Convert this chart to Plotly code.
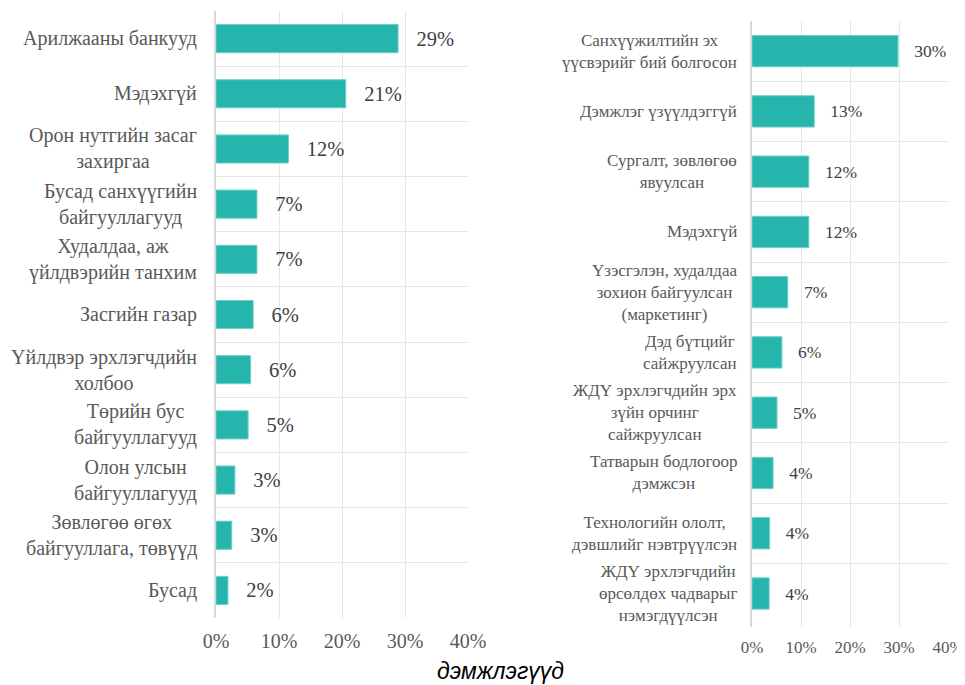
import plotly.graph_objects as go

left_cats = ["Арилжааны банкууд", "Мэдэхгүй", "Орон нутгийн засаг<br>захиргаа",
             "Бусад санхүүгийн<br>байгууллагууд", "Худалдаа, аж<br>үйлдвэрийн танхим",
             "Засгийн газар", "Үйлдвэр эрхлэгчдийн<br>холбоо", "Төрийн бус<br>байгууллагууд",
             "Олон улсын<br>байгууллагууд", "Зөвлөгөө өгөх<br>байгууллага, төвүүд", "Бусад"]
left_vals = [28.9, 20.6, 11.5, 6.5, 6.5, 5.9, 5.5, 5.1, 3.0, 2.5, 1.9]

right_cats = ["Санхүүжилтийн эх<br>үүсвэрийг бий болгосон", "Дэмжлэг үзүүлдэггүй",
              "Сургалт, зөвлөгөө<br>явуулсан", "Мэдэхгүй",
              "Үзэсгэлэн, худалдаа<br>зохион байгуулсан<br>(маркетинг)",
              "Дэд бүтцийг<br>сайжруулсан", "ЖДҮ эрхлэгчдийн эрх<br>зүйн орчинг<br>сайжруулсан",
              "Татварын бодлогоор<br>дэмжсэн", "Технологийн ололт,<br>дэвшлийг нэвтрүүлсэн",
              "ЖДҮ эрхлэгчдийн<br>өрсөлдөх чадварыг<br>нэмэгдүүлсэн"]
right_vals = [29.8, 12.7, 11.6, 11.6, 7.3, 6.1, 5.1, 4.3, 3.6, 3.5]

x_ticks = [0, 10, 20, 30, 40]
x_ticktext = ["0%", "10%", "20%", "30%", "40%"]
bottom_text = "дэмжлэгүүд"

BAR = "#26B5AC"
GRID = "#E7E7E7"
LABEL = "#595959"
VAL = "#404040"
SERIF = "Liberation Serif"

W, H = 965, 677   # page body has an 8px margin; positions below are screen pixels


def fx(px):
    return (px - 8) / W


def fy(px):
    return 1 - (px - 8) / H


fig = go.Figure()
nb = "\u00a0"
fig.add_trace(go.Bar(
    x=left_vals, y=left_cats, orientation="h", xaxis="x", yaxis="y",
    marker=dict(color=BAR, line=dict(color="#6fd0c8", width=1)),
    texttemplate=nb * 3 + "%{x:.0f}%", textposition="outside", cliponaxis=False,
    textfont=dict(family=SERIF, size=20.5, color=VAL), width=0.51, hoverinfo="skip"))
fig.add_trace(go.Bar(
    x=right_vals, y=right_cats, orientation="h", xaxis="x2", yaxis="y2",
    marker=dict(color=BAR, line=dict(color="#6fd0c8", width=1)),
    texttemplate=nb * 3 + "%{x:.0f}%", textposition="outside", cliponaxis=False,
    textfont=dict(family=SERIF, size=17.5, color=VAL), width=0.52, hoverinfo="skip"))

annotations = []
for c in left_cats:
    annotations.append(dict(x=0, xref="x domain", y=c, yref="y", text=c, showarrow=False,
                            xanchor="right", align="center", xshift=-17,
                            font=dict(family=SERIF, size=20, color=LABEL)))
for c in right_cats:
    annotations.append(dict(x=0, xref="x2 domain", y=c, yref="y2", text=c, showarrow=False,
                            xanchor="right", align="center", xshift=-13,
                            font=dict(family=SERIF, size=17, color=LABEL)))
annotations.append(dict(x=fx(500), xref="paper", y=fy(671), yref="paper", text=bottom_text,
                        showarrow=False, xanchor="center", yanchor="middle",
                        font=dict(family="Liberation Sans", size=23,
                                  color="#000000", style="italic")))

xcommon = dict(range=[0, 40], tickvals=x_ticks, ticktext=x_ticktext, showgrid=True,
               gridcolor=GRID, gridwidth=1, zeroline=False, showline=False, ticks="",
               fixedrange=True, automargin=False)
ycommon = dict(type="category", autorange="reversed", tickson="boundaries", showgrid=True,
               gridcolor=GRID, gridwidth=1, showticklabels=False, ticks="",
               showline=True, linecolor="#D9D9D9", linewidth=1.5, zeroline=False,
               automargin=False)

fig.update_layout(
    width=W, height=H, margin=dict(l=0, r=0, t=0, b=0, autoexpand=False),
    paper_bgcolor="white", plot_bgcolor="white", showlegend=False, bargap=0.49,
    font=dict(family=SERIF),
    xaxis=dict(domain=[fx(216), fx(468)], anchor="y",
               tickfont=dict(family=SERIF, size=20, color=LABEL), ticklabelstandoff=9,
               **xcommon),
    yaxis=dict(domain=[fy(618), fy(11)], anchor="x", **ycommon),
    xaxis2=dict(domain=[fx(752), fx(948)], anchor="y2",
                tickfont=dict(family=SERIF, size=17, color=LABEL), ticklabelstandoff=8,
                **xcommon),
    yaxis2=dict(domain=[fy(627), fy(21)], anchor="x2", **ycommon),
    annotations=annotations,
)

fig.write_html("out.html")
